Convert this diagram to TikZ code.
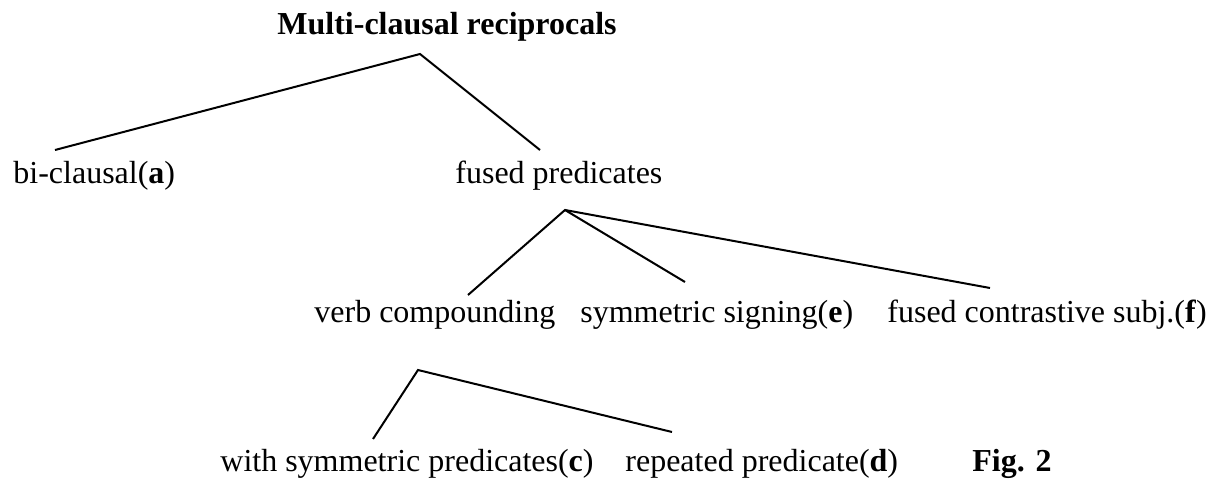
\documentclass[tikz,border=0pt]{standalone}
\usepackage{fontspec}
\setmainfont{Liberation Serif}
\begin{document}
\begin{tikzpicture}[x=0.5pt,y=-0.5pt,
  lbl/.style={anchor=base west,inner sep=0pt,font=\fontsize{16pt}{19pt}\selectfont},
  blbl/.style={lbl,font=\fontsize{16pt}{19pt}\selectfont\bfseries},
  edge/.style={line width=1pt}]
\useasboundingbox (0,0) rectangle (1207,481);
\node[blbl] (root) at (277,35) {Multi-clausal reciprocals};
\node[lbl] (bic) at (13,184) {bi-clausal(\textbf{a})};
\node[lbl] (fused) at (455,184) {fused predicates};
\node[lbl] (verb) at (314,322) {verb compounding};
\node[lbl] (sym) at (580,322) {symmetric signing(\textbf{e})};
\node[lbl] (contr) at (887,322) {fused contrastive subj.(\textbf{f})};
\node[lbl] (withsym) at (220,472) {with symmetric predicates(\textbf{c})};
\node[lbl] (rep) at (625,472) {repeated predicate(\textbf{d})};
\node[blbl] (fig) at (972,472) {Fig. 2};
\coordinate (rootA) at (420,54);
\coordinate (bicT) at (55,150);
\coordinate (fusedT) at (540,150);
\coordinate (fusedA) at (565,210);
\coordinate (verbT) at (468,295);
\coordinate (symT) at (685,282);
\coordinate (contrT) at (990,288);
\coordinate (verbA) at (418,370);
\coordinate (withsymT) at (373,439);
\coordinate (repT) at (672,432);
\draw[edge] (bicT) -- (rootA) -- (fusedT);
\draw[edge] (verbT) -- (fusedA) -- (symT);
\draw[edge] (fusedA) -- (contrT);
\draw[edge] (withsymT) -- (verbA) -- (repT);
\end{tikzpicture}
\end{document}
